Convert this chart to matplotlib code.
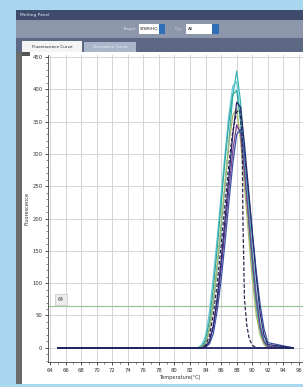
import matplotlib
matplotlib.use("Agg")
import matplotlib.pyplot as plt
from matplotlib.patches import Rectangle
from matplotlib.ticker import MultipleLocator

W, H = 303, 387

# ---------------- data ----------------
temps = [65.0, 83.0, 83.5, 84.0, 84.5, 85.0, 85.5, 86.0, 86.5, 87.0, 87.5, 88.0,
         88.5, 89.0, 89.5, 90.0, 90.5, 91.0, 91.5, 92.0, 95.2]
teal_a = [0, 0, 1, 8, 30, 70, 125, 185, 252, 320, 390, 428, 380, 300, 225, 150, 85, 38, 12, 3, 0]
cyan_b = [0, 0, 4, 18, 55, 110, 170, 238, 300, 360, 405, 412, 355, 280, 200, 128, 68, 28, 8, 1, 0]
teal_c = [0, 0, 2, 12, 42, 92, 155, 222, 290, 350, 392, 398, 350, 275, 198, 125, 65, 26, 7, 1, 0]
navy_d = [0, 0, 0, 2, 10, 35, 78, 135, 198, 265, 330, 380, 372, 315, 248, 178, 112, 55, 20, 5, 0]
purple_e = [0, 0, 0, 2, 10, 32, 70, 122, 183, 245, 305, 345, 332, 272, 205, 138, 78, 33, 10, 2, 0]
blue_f = [0, 0, 0, 1, 6, 22, 58, 105, 163, 225, 285, 330, 338, 300, 242, 180, 120, 68, 30, 8, 0]
olive_g = [0, 0, 1, 6, 28, 72, 130, 192, 255, 315, 360, 370, 320, 250, 178, 108, 52, 20, 5, 0, 0]

dash_temps = [65.0, 83.5, 84.0, 84.5, 85.0, 85.5, 86.0, 86.5, 87.0, 87.5, 88.0, 88.4,
              88.7, 88.8, 89.0, 89.3, 89.6, 90.0, 90.5, 95.2]
dash_vals = [0, 0, 4, 18, 52, 100, 158, 222, 285, 335, 365, 368, 330, 200, 75, 35, 14, 4, 0, 0]

series = [
    (teal_a, "#3cb4b4", "-"),
    (cyan_b, "#62c8d6", "-"),
    (teal_c, "#2fa79c", "-"),
    (olive_g, "#a9b46a", "-"),
    (purple_e, "#74408f", "-"),
    (blue_f, "#3b52a6", "-"),
    (navy_d, "#262a6c", "-"),
]

x_ticks = [64, 66, 68, 70, 72, 74, 76, 78, 80, 82, 84, 86, 88, 90, 92, 94, 96]
y_ticks = [0, 50, 100, 150, 200, 250, 300, 350, 400, 450]
threshold = 64

# ---------------- figure / chrome ----------------
fig = plt.figure(figsize=(W / 100, H / 100), dpi=100)
fig.patch.set_facecolor("#a9d6ef")

bg = fig.add_axes([0, 0, 1, 1], zorder=0)
bg.set_xlim(0, W)
bg.set_ylim(H, 0)
bg.axis("off")


def rect(x, y, w, h, color, axis=bg):
    axis.add_patch(Rectangle((x, y), w, h, facecolor=color, edgecolor="none"))


def ftext(x, y, s, **kw):
    bg.text(x, y, s, **kw)


# window title bar
rect(16, 10, 287, 10, "#3f4b6c")
ftext(20, 15, "Melting Panel", fontsize=3.2, color="#e8ecf4", va="center")
# toolbar
rect(16, 20, 287, 18, "#8d97ab")
ftext(136, 29, "Target", fontsize=3.2, color="#e0e4ec", va="center", ha="right")
rect(139, 24, 20, 10, "#ffffff")
ftext(140, 29, "SYBR/HQ", fontsize=3.0, color="#222222", va="center")
rect(159, 24, 6, 10, "#2f6fb8")
ftext(183, 29, "Dye", fontsize=3.2, color="#c6cad4", va="center", ha="right")
rect(186, 24, 26, 10, "#ffffff")
ftext(188, 29, "All", fontsize=3.0, color="#222222", va="center")
rect(212, 24, 7, 10, "#2f6fb8")
# tab strip
rect(16, 38, 287, 14, "#5d6884")
rect(22, 41, 60, 11, "#f4f4f4")
ftext(52, 46.5, "Fluorescence Curve", fontsize=3.0, color="#222222", va="center", ha="center")
rect(84, 42, 52, 10, "#a9b5c9")
ftext(110, 47, "Derivative Curve", fontsize=3.0, color="#f0f2f6", va="center", ha="center")
# left dark strip and white panel
rect(16, 52, 6, 332, "#6a6a6a")
rect(22, 52, 281, 332, "#ffffff")
rect(22, 52, 8, 4, "#555555")

# ---------------- axes ----------------
px_per_deg = (299 - 50) / 32.0
x0 = 63.75
x_right = 97.5
ax_left, ax_top, ax_bottom = 48, 55, 362
ax_w = (x_right - x0) * px_per_deg
ax = fig.add_axes([ax_left / W, 1 - ax_bottom / H, ax_w / W, (ax_bottom - ax_top) / H],
                  zorder=2)
ax.set_facecolor("white")
ax.set_xlim(x0, x_right)
ax.set_ylim(-22, 453)

ax.set_xticks(x_ticks)
ax.set_yticks(y_ticks)
ax.xaxis.set_minor_locator(MultipleLocator(1))
ax.yaxis.set_minor_locator(MultipleLocator(10))
ax.grid(True, which="major", color="#d4d4d4", linewidth=0.7)
ax.tick_params(axis="both", which="major", labelsize=3.8, length=2.5, width=0.6,
               pad=1.5, colors="#333333")
ax.tick_params(axis="both", which="minor", length=1.3, width=0.5, colors="#555555")
for side in ("top", "right"):
    ax.spines[side].set_visible(False)
for side in ("left", "bottom"):
    ax.spines[side].set_linewidth(0.6)
    ax.spines[side].set_color("#444444")
ax.set_xlabel("Temperature(°C)", fontsize=3.6, labelpad=1.5, color="#333333")
ax.set_ylabel("Fluorescence", fontsize=3.6, labelpad=2, color="#333333")

# threshold line
ax.axhline(threshold, color="#9cc79a", linewidth=0.9, zorder=2)
ax.text(65.0, threshold + 11, str(threshold), fontsize=3.4, color="#333333",
        va="center", ha="left",
        bbox=dict(boxstyle="square,pad=0.6", facecolor="#ececec", edgecolor="#b8b8b8",
                  linewidth=0.4))

for vals, col, ls in series:
    ax.plot(temps, vals, color=col, linestyle=ls, linewidth=0.9, zorder=3)
ax.plot(dash_temps, dash_vals, color="#2d2550", linestyle=(0, (3, 1.5)),
        linewidth=0.9, zorder=4)
ax.plot([temps[0], temps[-1]], [0, 0], color="#1f2262", linewidth=1.3, zorder=5)

# bottom light strip overlay
fg = fig.add_axes([0, 0, 1, 1], zorder=5)
fg.set_xlim(0, W)
fg.set_ylim(H, 0)
fg.axis("off")
fg.patch.set_alpha(0)
rect(0, 384, 303, 3, "#a9d6ef", axis=fg)

fig.savefig("out.png", dpi=100, facecolor=fig.get_facecolor())
